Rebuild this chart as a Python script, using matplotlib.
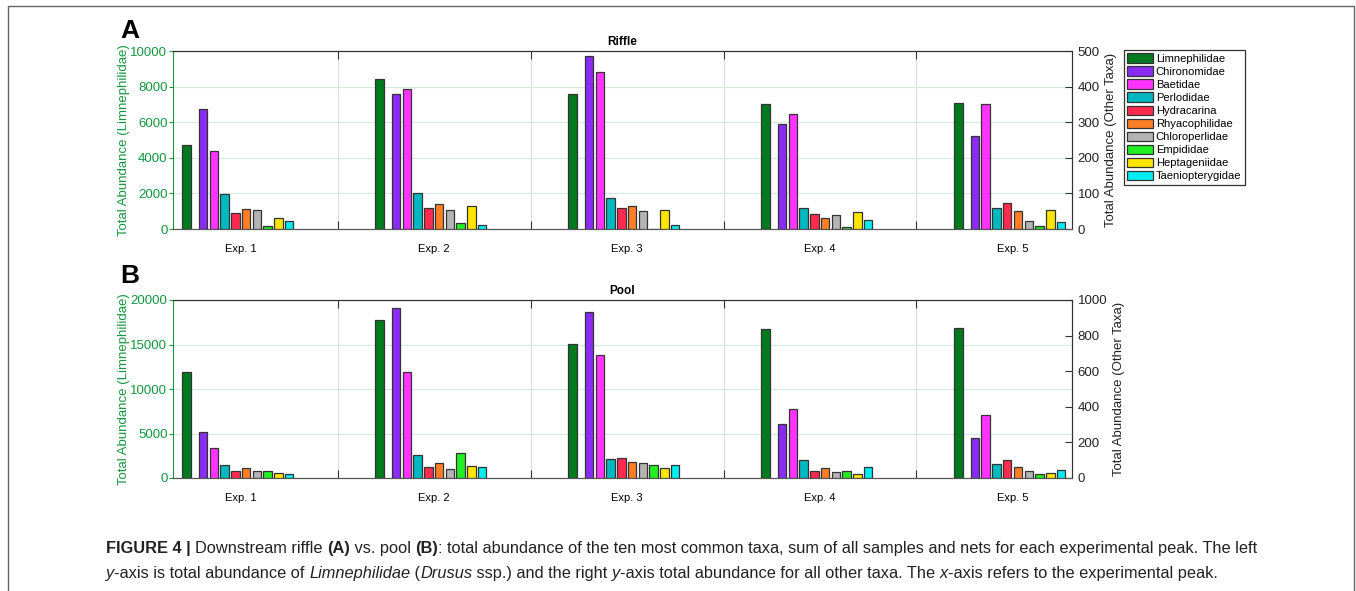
import numpy as np
import matplotlib
matplotlib.use("Agg")
import matplotlib.pyplot as plt
from matplotlib.patches import Patch, Rectangle
from matplotlib.transforms import blended_transform_factory

plt.rcParams['font.family'] = ['Liberation Sans', 'DejaVu Sans']

# ------------------------------------
# data
# ------------------------------------
experiments = ['Exp. 1', 'Exp. 2', 'Exp. 3', 'Exp. 4', 'Exp. 5']
taxa = ['Limnephilidae', 'Chironomidae', 'Baetidae', 'Perlodidae', 'Hydracarina',
        'Rhyacophilidae', 'Chloroperlidae', 'Empididae', 'Heptageniidae',
        'Taeniopterygidae']

# Riffle (A): Limnephilidae on the left axis, the others on the right axis
riffle_limn = [4700, 8450, 7600, 7030, 7080]
riffle_other = [
    [337, 378, 485, 295, 261],   # Chironomidae
    [219, 393, 441, 323, 351],   # Baetidae
    [98, 102, 86, 60, 60],       # Perlodidae
    [46, 59, 59, 43, 74],        # Hydracarina
    [56, 71, 65, 31, 51],        # Rhyacophilidae
    [53, 53, 50, 38, 22],        # Chloroperlidae
    [8, 16, 0, 5, 9],            # Empididae
    [31, 65, 53, 48, 53],        # Heptageniidae
    [22, 12, 11, 24, 20],        # Taeniopterygidae
]

# Pool (B)
pool_limn = [11950, 17750, 15100, 16770, 16890]
pool_other = [
    [257, 955, 932, 304, 224],
    [167, 593, 689, 385, 356],
    [71, 129, 105, 99, 79],
    [39, 62, 111, 39, 99],
    [58, 82, 88, 58, 64],
    [39, 52, 82, 34, 39],
    [37, 143, 73, 39, 24],
    [26, 67, 58, 24, 30],
    [21, 62, 71, 62, 43],
]

colors = ['#007a1e', '#8b2cf5', '#ff33ff', '#00b9c0', '#ff2a50',
          '#ff7f27', '#b4b4b4', '#22ee22', '#ffe600', '#00eef2']

GREEN = '#14963f'
EDGE = '#333333'

W, H = 1356, 591
fig = plt.figure(figsize=(W / 100, H / 100), dpi=100)

x = np.arange(1, len(experiments) + 1)
bw = 0.044
limn_off = -0.283
other_off = -0.197 + 0.0558 * np.arange(9)


def panel(rect, limn, other, lmax, lstep, rmax, rstep, title):
    ax = fig.add_axes(rect)
    ax2 = ax.twinx()
    ax.bar(x + limn_off, limn, bw, color=colors[0], edgecolor=EDGE, linewidth=0.9, zorder=3)
    for k in range(9):
        ax2.bar(x + other_off[k], other[k], bw, color=colors[k + 1],
                edgecolor=EDGE, linewidth=0.9, zorder=3)

    ax.set_xlim(0.647, 5.306)
    ax.set_ylim(0, lmax)
    ax2.set_ylim(0, rmax)
    ax.set_yticks(np.arange(0, lmax + 1, lstep))
    ax2.set_yticks(np.arange(0, rmax + 1, rstep))

    ax.set_xticks([1.5, 2.5, 3.5, 4.5])
    ax.set_xticklabels([])
    ax.tick_params(axis='x', direction='in', length=6, top=True, color='#333333')
    ax.xaxis.grid(True, color='#dcdcdc', linewidth=0.8)
    ax.yaxis.grid(True, color='#d3ebdc', linewidth=0.8)
    ax.set_axisbelow(True)

    ax.tick_params(axis='y', direction='out', length=3, colors=GREEN, labelsize=9.5, pad=1)
    ax2.tick_params(axis='y', direction='in', length=5, color='#333333',
                    labelcolor='#222222', labelsize=9.5, pad=4)

    for a in (ax, ax2):
        a.spines['top'].set_color('#333333')
        a.spines['bottom'].set_color('#555555')
        a.spines['right'].set_color('#333333')
    ax.spines['left'].set_color(GREEN)
    ax2.spines['left'].set_visible(False)

    ax.set_ylabel('Total Abundance (Limnephilidae)', color=GREEN, fontsize=9.5, labelpad=0)
    ax2.set_ylabel('Total Abundance (Other Taxa)', color='#222222', fontsize=9.5, labelpad=4)
    ax.set_title(title, fontsize=8.5, fontweight='bold', pad=4)

    tr = blended_transform_factory(ax.transData, ax.transAxes)
    for xi, lab in zip(x, experiments):
        ax.text(xi, -0.112, lab, transform=tr, ha='center', va='center', fontsize=8)
    return ax


panel([173 / W, 1 - 229 / H, 899 / W, 178 / H], riffle_limn, riffle_other,
      10000, 2000, 500, 100, 'Riffle')
panel([173 / W, 1 - 478 / H, 899 / W, 178 / H], pool_limn, pool_other,
      20000, 5000, 1000, 200, 'Pool')

fig.text(120 / W, 1 - 31 / H, 'A', fontsize=19, fontweight='bold', va='center', ha='left')
fig.text(120 / W, 1 - 276 / H, 'B', fontsize=19, fontweight='bold', va='center', ha='left')

handles = [Patch(facecolor=c, edgecolor=EDGE, linewidth=0.9) for c in colors]
leg = fig.legend(handles, taxa, loc='upper left', bbox_to_anchor=(1124 / W, 1 - 50 / H),
                 fontsize=8, frameon=True, fancybox=False, framealpha=1,
                 edgecolor='#333333', handlelength=2.3, handleheight=0.95,
                 handletextpad=0.25, labelspacing=0.22, borderpad=0.3, borderaxespad=0)
leg.get_frame().set_linewidth(0.9)

# outer frame of the figure
fig.add_artist(Rectangle((8 / W, -0.05), (1354 - 8) / W, 1.05 - 6 / H,
                         transform=fig.transFigure, fill=False,
                         edgecolor='#666666', linewidth=1))

# ------------------------------------
# caption with mixed styles
# ------------------------------------
renderer = fig.canvas.get_renderer()
CAP_SIZE = 11.75


def width_px(s, **kw):
    t1 = fig.text(0, 0, '|' + s + '|', fontsize=CAP_SIZE, **kw)
    t2 = fig.text(0, 0, '||', fontsize=CAP_SIZE, **kw)
    w = t1.get_window_extent(renderer).width - t2.get_window_extent(renderer).width
    t1.remove()
    t2.remove()
    return w


def caption_line(pieces, x0, y0):
    xp = x0
    for s, style in pieces:
        kw = {}
        if style == 'b':
            kw['fontweight'] = 'bold'
        elif style == 'i':
            kw['fontstyle'] = 'italic'
        fig.text(xp / W, 1 - y0 / H, s, fontsize=CAP_SIZE, va='baseline', ha='left',
                 color='#222222', **kw)
        xp += width_px(s, **kw)


line1 = [('FIGURE 4 | ', 'b'), ('Downstream riffle ', 'n'), ('(A)', 'b'),
         (' vs. pool ', 'n'), ('(B)', 'b'),
         (': total abundance of the ten most common taxa, sum of all samples and nets '
          'for each experimental peak. The left', 'n')]
line2 = [('y', 'i'), ('-axis is total abundance of ', 'n'), ('Limnephilidae', 'i'),
         (' (', 'n'), ('Drusus', 'i'), (' ssp.) and the right ', 'n'), ('y', 'i'),
         ('-axis total abundance for all other taxa. The ', 'n'), ('x', 'i'),
         ('-axis refers to the experimental peak.', 'n')]

caption_line(line1, 106, 553)
caption_line(line2, 106, 578)

fig.savefig('out.png', dpi=100)
